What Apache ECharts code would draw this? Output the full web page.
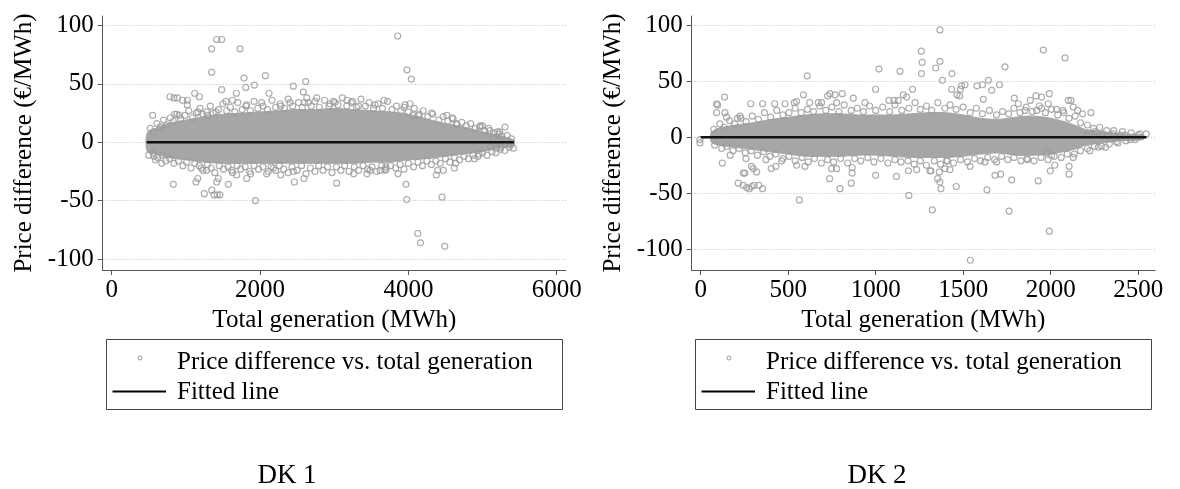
<!DOCTYPE html>
<html>
<head>
<meta charset="utf-8">
<script src="https://cdn.jsdelivr.net/npm/echarts@6/dist/echarts.min.js"></script>
<style>
  html, body { margin: 0; padding: 0; background: #fff; }
  #chart { width: 1180px; height: 489px; }
</style>
</head>
<body>
<div id="chart"></div>
<script>
// tick labels
const yTicks = [-100, -50, 0, 50, 100];
const dk1XTicks = [0, 2000, 4000, 6000];
const dk2XTicks = [0, 500, 1000, 1500, 2000, 2500];

// DK 1: dense core of the cloud (upper / lower edge)
const dk1EnvX = [480, 600, 750, 1000, 1250, 1500, 1750, 2000, 2250, 2500, 2750, 3000, 3250, 3500, 3750, 4000, 4250, 4500, 4750, 5000, 5200, 5420];
const dk1EnvHi = [8, 12, 16, 19, 22, 24, 25, 26, 27, 28, 28, 29, 28, 27, 26, 24, 20, 16, 13, 9, 6, 2];
const dk1EnvLo = [-8, -10, -13, -15, -17, -18, -18, -18, -18, -18, -18, -18, -18, -17, -17, -15, -14, -12, -10, -8, -5, -3];

// DK 1: outliers
const dk1Outliers = [
  [1348, 80], [1416, 88], [1483, 88], [1730, 80], [1348, 60], [1483, 45], [1784, 55], [1807, 47], [1924, 49],
  [2072, 57], [2449, 48], [2616, 52], [2584, 43], [2121, 42], [786, 39], [840, 38], [885, 38], [957, 36],
  [1020, 36], [1119, 42], [1182, 39], [849, 24], [908, 23], [553, 23], [1681, 42], [1540, 35], [1630, 36],
  [1406, 26], [1164, 26], [1290, 23], [1020, 32], [1820, 32], [2022, 34], [2279, 31], [2404, 34], [2598, 34],
  [2652, 34], [2764, 38], [2944, 33], [3011, 34], [3856, 91], [3981, 62], [4040, 54], [3671, 36], [3173, 36],
  [3249, 35], [3326, 31], [3550, 32], [3955, 32], [4022, 33], [4062, 23], [4134, 23], [4314, 25], [4517, 23],
  [4602, 20], [4656, 15], [4970, 14], [4997, 14], [5100, 10], [5231, 9], [5303, 13], [5145, 3], [5222, 7],
  [831, -36], [1137, -34], [1160, -31], [1249, -44], [1348, -41], [1380, -45], [1425, -45], [1461, -45],
  [1416, -34], [1438, -31], [1573, -36], [1937, -50], [1820, -31], [1874, -27], [2279, -28], [2463, -34],
  [2593, -31], [2449, -25], [2112, -25], [2180, -22], [1685, -28], [1281, -24], [1209, -22], [674, -18],
  [571, -12], [589, -15], [1618, -24], [3034, -35], [4126, -78], [4163, -86], [4490, -89], [3968, -36],
  [3977, -49], [4454, -47], [4377, -28], [4395, -24], [4472, -24], [4620, -22], [4638, -18], [3861, -27],
  [3618, -24], [3694, -21], [3443, -27], [3483, -24], [3263, -27], [3685, -24], [4890, -14], [4953, -10],
  [5380, -2], [5415, -5], [5191, -5], [5249, -4], [5110, -4]
];
// DK 1: loose observations along the edge of the core
const dk1Edge = [
  [520, 12], [560, 9], [610, 16], [650, 13], [700, 19], [740, 15], [790, 21], [830, 18], [880, 24], [930, 20],
  [990, 23], [1040, 27], [1090, 21], [1140, 25], [1190, 29], [1230, 24], [1280, 26], [1330, 31], [1370, 25],
  [1440, 28], [1500, 33], [1550, 27], [1600, 30], [1660, 26], [1700, 34], [1760, 28], [1810, 31], [1870, 27],
  [1920, 35], [1970, 29], [2040, 31], [2100, 28], [2160, 36], [2210, 30], [2270, 33], [2330, 29], [2380, 37],
  [2440, 31], [2520, 34], [2570, 30], [2630, 38], [2690, 31], [2740, 35], [2800, 30], [2870, 36], [2930, 31],
  [2990, 35], [3050, 32], [3110, 38], [3170, 31], [3230, 34], [3300, 30], [3360, 37], [3420, 31], [3470, 34],
  [3530, 29], [3590, 33], [3650, 29], [3720, 35], [3780, 28], [3840, 31], [3900, 27], [3940, 30], [4000, 26],
  [4080, 29], [4150, 24], [4200, 27], [4260, 22], [4330, 24], [4410, 19], [4470, 22], [4530, 18], [4590, 21],
  [4650, 16], [4720, 17], [4780, 14], [4840, 16], [4900, 12], [4960, 13], [5030, 10], [5080, 12], [5150, 8],
  [5200, 9], [5260, 5], [5330, 6], [5390, 3],
  [500, -11], [560, -9], [620, -13], [680, -11], [730, -16], [780, -14], [840, -18], [900, -16], [960, -20],
  [1010, -17], [1070, -22], [1120, -18], [1180, -20], [1230, -24], [1290, -19], [1340, -22], [1390, -26],
  [1450, -20], [1510, -23], [1570, -21], [1630, -26], [1690, -20], [1740, -23], [1800, -21], [1860, -25],
  [1920, -20], [1980, -23], [2040, -21], [2090, -27], [2150, -21], [2210, -24], [2260, -20], [2320, -23],
  [2380, -26], [2430, -21], [2500, -24], [2560, -20], [2620, -27], [2680, -22], [2740, -25], [2790, -20],
  [2850, -24], [2910, -21], [2970, -26], [3030, -21], [3090, -24], [3140, -20], [3200, -25], [3270, -21],
  [3330, -24], [3390, -20], [3450, -23], [3510, -21], [3570, -25], [3640, -20], [3700, -23], [3760, -20],
  [3830, -22], [3890, -19], [3940, -23], [4000, -18], [4070, -21], [4130, -17], [4190, -20], [4250, -16],
  [4310, -19], [4370, -16], [4430, -18], [4500, -14], [4560, -17], [4620, -13], [4690, -15], [4750, -12],
  [4810, -14], [4870, -11], [4940, -12], [5000, -9], [5060, -11], [5130, -8], [5180, -9], [5240, -6],
  [5300, -7], [5360, -4]
];
const dk1Fit = [[472, 0], [5424, 0]];

// DK 2: dense core
const dk2EnvX = [60, 100, 200, 300, 400, 500, 600, 700, 800, 900, 1000, 1100, 1200, 1300, 1400, 1500, 1600, 1700, 1800, 1900, 2000, 2100, 2150, 2200, 2300, 2400, 2530];
const dk2EnvHi = [4, 8, 11, 13, 16, 18, 20, 21, 21, 20, 20, 20, 21, 22, 22, 20, 17, 16, 18, 19, 17, 13, 10, 7, 5, 3, 2];
const dk2EnvLo = [-4, -7, -9, -11, -13, -15, -17, -17, -17, -16, -16, -17, -18, -18, -18, -17, -15, -14, -16, -16, -15, -12, -10, -7, -5, -3, -2];

// DK 2: outliers
const dk2Outliers = [
  [-4, -2], [-4, -5], [91, 30], [97, 29], [91, 22], [137, 36], [139, 22], [148, 18], [286, 30], [354, 30],
  [423, 30], [482, 30], [210, 17], [225, 19], [535, 31], [548, 32], [588, 38], [609, 55], [623, 31], [672, 31],
  [691, 31], [726, 37], [739, 39], [768, 38], [809, 39], [777, 31], [872, 35], [939, 31], [1000, 43], [1019, 61],
  [1076, 33], [1139, 59], [1105, 33], [1129, 33], [1177, 36], [1158, 38], [1211, 43], [1261, 77], [1266, 67],
  [1262, 57], [1367, 96], [1367, 68], [1343, 62], [1381, 51], [1436, 57], [1484, 43], [1491, 46], [1510, 47],
  [1434, 43], [1465, 38], [1480, 37], [1579, 46], [1610, 47], [1644, 51], [1615, 34], [1663, 42], [1708, 47],
  [1739, 63], [1958, 78], [2082, 71], [1916, 37], [1948, 36], [1884, 33], [1992, 39], [1792, 35], [1815, 30],
  [1853, 24], [1920, 24], [1948, 26], [1986, 30], [2101, 33], [2116, 33], [2129, 27], [2154, 24], [2182, 21],
  [2230, 22], [2070, 24], [2034, 25], [2295, 3], [2253, 5], [2357, 3], [2396, 2], [2424, 2], [2500, 2],
  [2546, 3], [2206, 2],
  [124, -23], [169, -16], [244, -32], [253, -32], [215, -41], [244, -43], [263, -45], [278, -46], [291, -44],
  [305, -43], [333, -43], [354, -46], [291, -26], [301, -28], [320, -31], [259, -19], [373, -20], [403, -28],
  [430, -26], [564, -56], [548, -25], [596, -26], [463, -21], [737, -37], [796, -46], [861, -41], [866, -32],
  [866, -27], [1000, -34], [1119, -35], [1190, -52], [1234, -29], [1187, -30], [1310, -30], [1324, -65],
  [748, -28], [777, -28], [1396, -28], [1364, -31], [1367, -40], [1373, -46], [1354, -37], [1316, -30],
  [1461, -44], [1636, -47], [1682, -34], [1777, -38], [1762, -66], [1929, -39], [1992, -84], [1998, -30],
  [2023, -25], [2105, -26], [2105, -33], [1541, -110], [2129, -18], [2224, -12], [2272, -9], [2314, -9],
  [2375, -4], [2455, -2], [2483, -2], [1405, -21], [1424, -29], [1624, -22], [1539, -26], [1868, -20],
  [1977, -14], [2005, -16], [1714, -33], [1691, -22]
];
// DK 2: loose observations along the edge of the core
const dk2Edge = [
  [75, 7], [110, 12], [135, 9], [165, 15], [195, 12], [230, 17], [260, 14], [295, 19], [330, 16], [365, 22],
  [400, 18], [435, 24], [470, 20], [505, 22], [540, 26], [575, 22], [610, 25], [645, 23], [680, 28], [715, 24],
  [750, 27], [790, 23], [820, 29], [860, 24], [895, 26], [930, 23], [965, 28], [1000, 24], [1040, 27], [1080, 23],
  [1110, 29], [1150, 24], [1190, 26], [1225, 31], [1255, 25], [1290, 28], [1320, 24], [1355, 31], [1395, 26],
  [1425, 29], [1460, 25], [1500, 27], [1540, 22], [1575, 26], [1610, 21], [1650, 24], [1690, 20], [1725, 23],
  [1760, 21], [1790, 26], [1825, 22], [1860, 27], [1895, 23], [1935, 28], [1970, 22], [2005, 25], [2040, 20],
  [2075, 22], [2105, 17], [2140, 19], [2170, 13], [2210, 11], [2245, 8], [2280, 9], [2320, 6], [2360, 6],
  [2410, 5], [2460, 4], [2510, 3],
  [80, -7], [120, -10], [150, -8], [185, -12], [220, -10], [255, -14], [290, -12], [325, -16], [360, -13],
  [395, -17], [430, -15], [470, -19], [505, -17], [540, -21], [580, -18], [615, -22], [650, -19], [690, -23],
  [725, -20], [760, -22], [800, -19], [840, -23], [880, -19], [915, -21], [955, -18], [990, -22], [1030, -19],
  [1070, -23], [1110, -20], [1145, -22], [1185, -21], [1220, -24], [1255, -21], [1290, -25], [1335, -21],
  [1370, -24], [1410, -21], [1445, -23], [1485, -20], [1525, -22], [1565, -19], [1600, -21], [1640, -18],
  [1680, -20], [1720, -17], [1755, -20], [1790, -18], [1830, -21], [1865, -19], [1905, -21], [1945, -18],
  [1985, -20], [2020, -17], [2060, -18], [2095, -15], [2135, -15], [2170, -12], [2210, -10], [2250, -8],
  [2290, -8], [2335, -6], [2385, -5], [2430, -3]
];
const dk2Fit = [[0, 0], [2548, 0]];

const FONT = '"Liberation Serif", "Times New Roman", serif';
const GRAY = '#9a9a9a';
const AXIS = '#555';

function xAxisFor(gridIndex, min, max, ticks) {
  return {
    type: 'value', gridIndex: gridIndex, min: min, max: max,
    name: 'Total generation (MWh)', nameLocation: 'middle', nameGap: 31,
    nameTextStyle: { fontFamily: FONT, fontSize: 25, color: '#000' },
    axisLine: { show: true, onZero: false, lineStyle: { color: AXIS, width: 1 } },
    axisTick: { show: true, length: 5, customValues: ticks, lineStyle: { color: AXIS } },
    axisLabel: { customValues: ticks, margin: 8, fontFamily: FONT, fontSize: 25, color: '#000',
      formatter: v => String(v) },
    splitLine: { show: false }
  };
}

function yAxisFor(gridIndex, min, max) {
  return {
    type: 'value', gridIndex: gridIndex, min: min, max: max,
    name: 'Price difference (€/MWh)', nameLocation: 'middle', nameGap: 66,
    nameTextStyle: { fontFamily: FONT, fontSize: 25, color: '#000' },
    axisLine: { show: true, onZero: false, lineStyle: { color: AXIS, width: 1 } },
    axisTick: { show: true, length: 5, customValues: yTicks, lineStyle: { color: AXIS } },
    axisLabel: { customValues: yTicks, margin: 9, fontFamily: FONT, fontSize: 25, color: '#000',
      formatter: v => String(v) },
    splitLine: { show: false }
  };
}

// core band: one polygon joining the upper edge and the lower edge
function bandSeries(idx, xs, his, los) {
  return {
    type: 'custom', xAxisIndex: idx, yAxisIndex: idx, z: 2, silent: true,
    data: xs.map((x, i) => [x, los[i], his[i]]),
    renderItem: function (params, api) {
      if (params.dataIndexInside !== 0) return null;
      const n = params.dataInsideLength;
      const top = [], bottom = [];
      for (let i = 0; i < n; i++) {
        top.push(api.coord([api.value(0, i), api.value(2, i)]));
        bottom.push(api.coord([api.value(0, i), api.value(1, i)]));
      }
      return {
        type: 'polygon',
        shape: { points: top.concat(bottom.reverse()), smooth: 0.3 },
        style: { fill: '#a6a6a6', stroke: '#a6a6a6', lineWidth: 1 }
      };
    },
    markLine: {
      silent: true, symbol: 'none', animation: false, z: 1,
      label: { show: false },
      lineStyle: { type: [1, 2], color: '#bdbdbd', width: 1 },
      data: yTicks.map(v => ({ yAxis: v }))
    }
  };
}

function pointSeries(idx, pts) {
  return {
    type: 'scatter', xAxisIndex: idx, yAxisIndex: idx, z: 3,
    name: 'Price difference vs. total generation',
    symbol: 'circle', symbolSize: 6,
    itemStyle: { color: 'rgba(0,0,0,0)', borderColor: GRAY, borderWidth: 1.2 },
    data: pts
  };
}

function fitSeries(idx, pts) {
  return {
    type: 'line', xAxisIndex: idx, yAxisIndex: idx, z: 6,
    name: 'Fitted line', showSymbol: false,
    lineStyle: { color: '#111', width: 2.5 },
    data: pts
  };
}

function legendBox(dx) {
  return [
    { type: 'rect', shape: { x: 106.5 + dx, y: 339.5, width: 456, height: 70 },
      style: { fill: 'none', stroke: '#444', lineWidth: 1 } },
    { type: 'circle', shape: { cx: 140 + dx, cy: 358, r: 2 },
      style: { fill: 'none', stroke: '#999', lineWidth: 1 } },
    { type: 'text', style: { x: 177 + dx, y: 362, text: 'Price difference vs. total generation',
      font: '25px ' + FONT, fill: '#000', align: 'left', verticalAlign: 'middle' } },
    { type: 'line', shape: { x1: 112.5 + dx, y1: 391.5, x2: 166 + dx, y2: 391.5 },
      style: { stroke: '#000', lineWidth: 2 } },
    { type: 'text', style: { x: 177 + dx, y: 392, text: 'Fitted line',
      font: '25px ' + FONT, fill: '#000', align: 'left', verticalAlign: 'middle' } }
  ];
}

const chart = echarts.init(document.getElementById('chart'), null, { renderer: 'canvas' });
chart.setOption({
  animation: false,
  backgroundColor: '#fff',
  grid: [
    { left: 102.7, top: 16, width: 463.3, height: 254 },
    { left: 691.7, top: 16, width: 463.3, height: 254 }
  ],
  xAxis: [xAxisFor(0, -121, 6125, dk1XTicks), xAxisFor(1, -51, 2596, dk2XTicks)],
  yAxis: [yAxisFor(0, -109.3, 108.1), yAxisFor(1, -118.7, 108.5)],
  series: [
    bandSeries(0, dk1EnvX, dk1EnvHi, dk1EnvLo),
    pointSeries(0, dk1Outliers.concat(dk1Edge)),
    fitSeries(0, dk1Fit),
    bandSeries(1, dk2EnvX, dk2EnvHi, dk2EnvLo),
    pointSeries(1, dk2Outliers.concat(dk2Edge)),
    fitSeries(1, dk2Fit)
  ],
  graphic: [
    ...legendBox(0),
    ...legendBox(589),
    { type: 'text', style: { x: 287, y: 476, text: 'DK 1', font: '27px ' + FONT, fill: '#000',
      align: 'center', verticalAlign: 'middle' } },
    { type: 'text', style: { x: 877, y: 476, text: 'DK 2', font: '27px ' + FONT, fill: '#000',
      align: 'center', verticalAlign: 'middle' } }
  ]
});
</script>
</body>
</html>
